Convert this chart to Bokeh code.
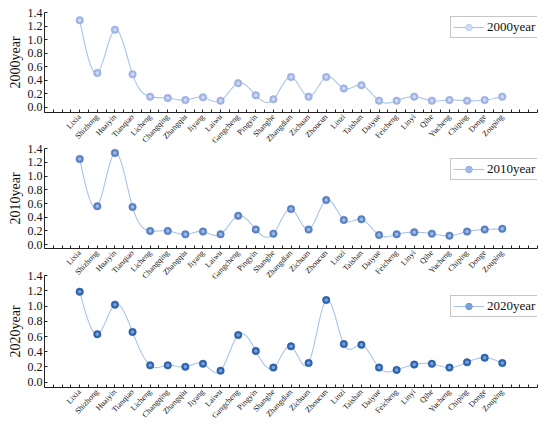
import numpy as np
from bokeh.plotting import figure
from bokeh.layouts import column
from bokeh.models import FixedTicker, PrintfTickFormatter, Legend, LegendItem, Range1d
from bokeh.embed import file_html
from bokeh.resources import INLINE

counties = ["Lixia", "Shizhong", "Huaiyin", "Tianqiao", "Licheng", "Changqing", "Zhangqiu",
            "Jiyang", "Laiwu", "Gangcheng", "Pingyin", "Shanghe", "Zhangdian", "Zichuan",
            "Zhoucun", "Linzi", "Taishan", "Daiyue", "Feicheng", "Linyi", "Qihe", "Yucheng",
            "Chiping", "Donge", "Zouping"]

values_2000 = [1.29, 0.51, 1.15, 0.49, 0.16, 0.14, 0.11, 0.15, 0.10, 0.36, 0.18, 0.12, 0.45,
               0.16, 0.45, 0.28, 0.33, 0.10, 0.10, 0.16, 0.10, 0.11, 0.10, 0.11, 0.16]
values_2010 = [1.25, 0.56, 1.34, 0.55, 0.20, 0.20, 0.15, 0.19, 0.15, 0.42, 0.22, 0.16, 0.52,
               0.22, 0.65, 0.36, 0.37, 0.14, 0.15, 0.18, 0.16, 0.13, 0.19, 0.22, 0.23]
values_2020 = [1.19, 0.63, 1.02, 0.66, 0.22, 0.22, 0.20, 0.24, 0.15, 0.62, 0.41, 0.19, 0.47,
               0.25, 1.08, 0.50, 0.49, 0.19, 0.16, 0.23, 0.24, 0.19, 0.26, 0.32, 0.25]

series_labels = ["2000year", "2010year", "2020year"]
y_ticks = [0.0, 0.2, 0.4, 0.6, 0.8, 1.0, 1.2, 1.4]

FONT = "Liberation Serif"


def natural_spline(y, n=14):
    y = np.asarray(y, dtype=float)
    m = len(y)
    A = np.zeros((m, m))
    b = np.zeros(m)
    A[0, 0] = 1
    A[-1, -1] = 1
    for i in range(1, m - 1):
        A[i, i - 1] = 1
        A[i, i] = 4
        A[i, i + 1] = 1
        b[i] = 6 * (y[i + 1] - 2 * y[i] + y[i - 1])
    M = np.linalg.solve(A, b)
    xs, ys = [], []
    for i in range(m - 1):
        t = np.linspace(0, 1, n, endpoint=(i == m - 2))
        s = ((1 - t) * y[i] + t * y[i + 1]
             + ((1 - t) ** 3 - (1 - t)) * M[i] / 6 + (t ** 3 - t) * M[i + 1] / 6)
        xs.extend(i + t)
        ys.extend(s)
    return xs, ys


def make_panel(vals, label, color, light, dark, y_min, frame_h, top_border, bottom_border,
               margin_top, legend_vy):
    p = figure(width=550, height=top_border + frame_h + bottom_border,
               x_range=Range1d(-2, 26), y_range=Range1d(y_min, 1.404),
               output_backend="svg", toolbar_location=None, title=None,
               min_border_left=44, min_border_right=13, min_border_top=top_border,
               min_border_bottom=bottom_border)
    p.margin = (margin_top, 0, 0, 0)
    p.outline_line_color = None
    p.background_fill_color = None
    p.border_fill_color = None
    p.xgrid.visible = False
    p.ygrid.visible = False

    x = list(range(len(counties)))
    sx, sy = natural_spline(vals)
    line_r = p.line(sx, sy, line_color="#a9c4ea", line_width=1.1)
    dot_r = p.scatter(x, vals, size=7.5, fill_color=color, line_color=dark, line_width=0.5)
    hl_r = p.scatter(x, vals, size=3.5, fill_color=light, fill_alpha=0.9, line_color=None)

    xa = p.xaxis[0]
    xa.ticker = FixedTicker(ticks=list(range(-2, 27)),
                            minor_ticks=[i + 0.5 for i in range(-2, 26)])
    overrides = {i: "" for i in range(-2, 27)}
    for i, name in enumerate(counties):
        overrides[i] = name
    xa.major_label_overrides = overrides
    xa.major_label_orientation = 0.82
    xa.major_label_text_font = FONT
    xa.major_label_text_font_size = "8px"
    xa.major_label_text_color = "#111111"
    xa.major_label_standoff = 3
    xa.major_tick_in = 3
    xa.major_tick_out = 0
    xa.minor_tick_in = 3
    xa.minor_tick_out = 0
    xa.axis_line_color = "#222222"
    xa.major_tick_line_color = "#222222"
    xa.minor_tick_line_color = "#222222"

    ya = p.yaxis[0]
    ya.ticker = FixedTicker(ticks=y_ticks)
    ya.formatter = PrintfTickFormatter(format="%.1f")
    ya.major_label_text_font = FONT
    ya.major_label_text_font_size = "12px"
    ya.major_label_text_color = "#111111"
    ya.major_label_standoff = 2
    ya.major_tick_in = 3
    ya.major_tick_out = 0
    ya.minor_tick_line_color = None
    ya.axis_line_color = "#222222"
    ya.major_tick_line_color = "#222222"
    ya.axis_label = label
    ya.axis_label_text_font = FONT
    ya.axis_label_text_font_size = "14px"
    ya.axis_label_text_font_style = "normal"
    ya.axis_label_text_color = "#111111"
    ya.axis_label_standoff = 2

    legend = Legend(items=[LegendItem(label=label, renderers=[line_r, dot_r, hl_r])],
                    location=(406, legend_vy))
    legend.margin = 0
    legend.padding = 2
    legend.spacing = 0
    legend.glyph_width = 31
    legend.glyph_height = 16
    legend.label_height = 16
    legend.label_standoff = 3
    legend.label_text_font = FONT
    legend.label_text_font_size = "13px"
    legend.label_text_color = "#111111"
    legend.border_line_color = "#8c8c8c"
    legend.border_line_width = 1
    legend.background_fill_color = "white"
    legend.background_fill_alpha = 1.0
    p.add_layout(legend)
    return p


p1 = make_panel(values_2000, series_labels[0], "#a3b6e6", "#d4def5", "#8ea3d6",
                -0.074, 104, 12, 35, 0, 74)
p2 = make_panel(values_2010, series_labels[1], "#5b84c9", "#a9c0e8", "#4a70b3",
                -0.057, 104, 6, 35, -9, 68)
p3 = make_panel(values_2020, series_labels[2], "#2d66b2", "#86a9dc", "#24559a",
                -0.072, 112, 6, 44, -18, 70)

layout = column(p1, p2, p3, spacing=0)
open("out.html", "w").write(file_html(layout, INLINE))
